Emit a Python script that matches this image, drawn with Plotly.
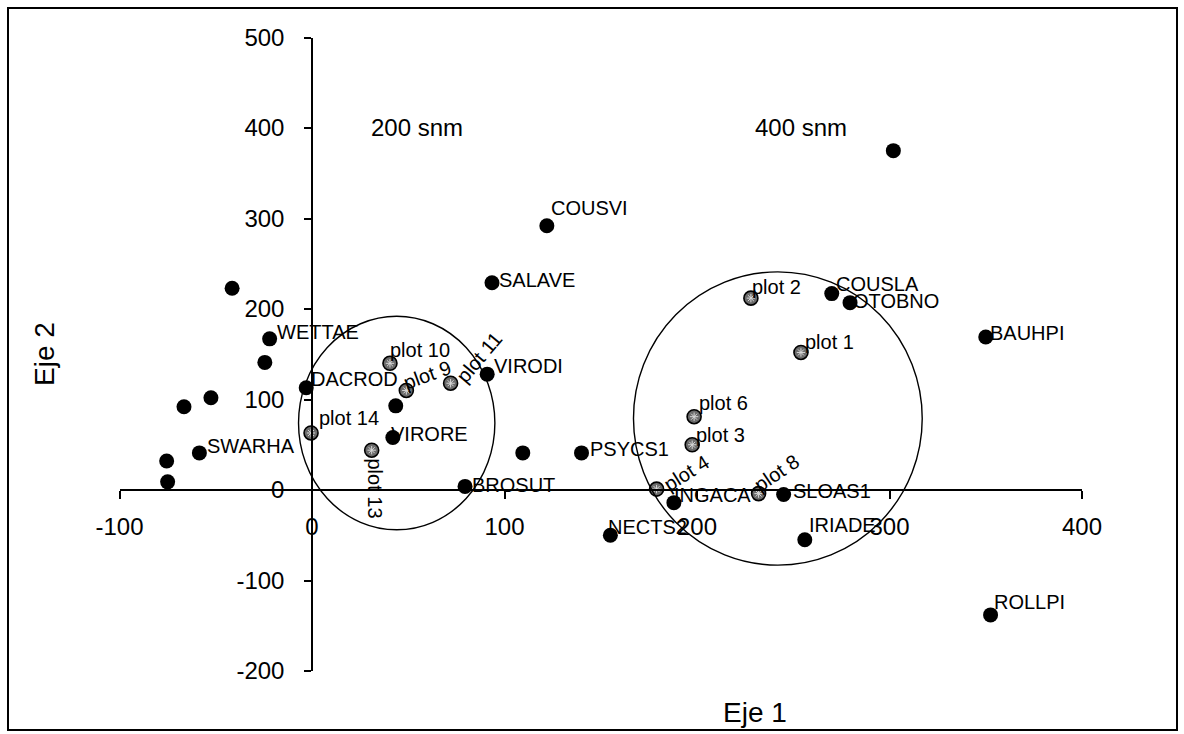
import plotly.graph_objects as go

# ---------------- data ----------------
species_names = ["COUSVI", "SALAVE", "COUSLA", "OTOBNO", "BAUHPI", "", "VIRODI", "WETTAE", "", "",
                 "DACROD", "", "", "SWARHA", "", "", "VIRORE", "", "", "PSYCS1",
                 "BROSUT", "NECTS2", "INGACA", "SLOAS1", "IRIADE", "ROLLPI"]
species_x = [122, 93.5, 270, 279.5, 350, 302, 91, -22, -41.5, -24.5,
             -3, -66.5, -52.5, -58.5, -75.5, -75, 42, 43.5, 109.5, 140,
             79.5, 155, 188, 245, 256, 352.5]
species_y = [292, 229, 217, 207, 169, 375, 128, 167, 223, 141,
             113, 92, 102, 41, 32, 9, 58, 93, 41, 41,
             4, -50, -14, -5, -55, -138]

plot_names = ["plot 1", "plot 2", "plot 3", "plot 4", "plot 6", "plot 8",
              "plot 9", "plot 10", "plot 11", "plot 13", "plot 14"]
plot_x = [254, 228, 197.5, 179, 198.5, 232, 49, 40.5, 72, 31, -0.5]
plot_y = [152, 212, 50, 1, 81, -4, 110, 140, 118, 44, 63]

x_ticks = [-100, 0, 100, 200, 300, 400]
y_ticks = [-200, -100, 0, 100, 200, 300, 400, 500]

group_labels = ["200 snm", "400 snm"]

# ---------------- label placement (pixels) ----------------
species_off = {"COUSVI": (2, -18), "SALAVE": (5, -3), "COUSLA": (2, -10), "OTOBNO": (1, -2),
               "BAUHPI": (2, -4), "VIRODI": (5, -8), "WETTAE": (5, -7), "DACROD": (3, -9),
               "SWARHA": (6, -7), "VIRORE": (-4, -4), "PSYCS1": (6, -4), "BROSUT": (5, -1),
               "NECTS2": (-4, -8), "INGACA": (-2, -8), "SLOAS1": (7, -4), "IRIADE": (2, -15),
               "ROLLPI": (1, -13)}
plot_off = {"plot 1": (2, -10, 0), "plot 2": (-1, -11, 0), "plot 3": (2, -10, 0),
            "plot 4": (30, -16, -32), "plot 6": (3, -14, 0), "plot 8": (18, -21, -34),
            "plot 9": (21, -15, -20), "plot 10": (-2, -13, 0), "plot 11": (29, -26, -50),
            "plot 13": (3, 38, 90), "plot 14": (6, -15, 0)}

W, H = 1184, 734
FONT = "Liberation Sans, Arial, sans-serif"

# pixel geometry of the original axes
x_px = (119.5, 1082.0)   # pixels for x=-100 .. 400
y_px = (671.0, 37.5)     # pixels for y=-200 .. 500
x0_px, y0_px = 312.0, 490.0

fig = go.Figure()

fig.add_trace(go.Scatter(
    x=plot_x, y=plot_y, mode="markers",
    marker=dict(size=14, color="#6a6a6a", line=dict(color="black", width=1.6)),
    cliponaxis=False, showlegend=False, hoverinfo="text", text=plot_names))
fig.add_trace(go.Scatter(
    x=plot_x, y=plot_y, mode="markers",
    marker=dict(size=7, symbol="asterisk-open", color="#d8d8d8", line=dict(color="#d8d8d8", width=1)),
    cliponaxis=False, showlegend=False, hoverinfo="skip"))
fig.add_trace(go.Scatter(
    x=species_x, y=species_y, mode="markers",
    marker=dict(size=15, color="black"),
    cliponaxis=False, showlegend=False, hoverinfo="text", text=species_names))

annotations = []
for n, x, y in zip(species_names, species_x, species_y):
    if not n:
        continue
    dx, dy = species_off[n]
    annotations.append(dict(x=x, y=y, xref="x", yref="y", text=n, showarrow=False,
                            xanchor="left", yanchor="middle", xshift=dx, yshift=-dy,
                            font=dict(family=FONT, size=20, color="black")))
for n, x, y in zip(plot_names, plot_x, plot_y):
    dx, dy, ang = plot_off[n]
    annotations.append(dict(x=x, y=y, xref="x", yref="y", text=n, showarrow=False,
                            xanchor="left" if ang == 0 else "center", yanchor="middle",
                            xshift=dx, yshift=-dy, textangle=ang,
                            font=dict(family=FONT, size=20, color="black")))

for lab, cx in zip(group_labels, [417, 801]):
    annotations.append(dict(x=cx / W, y=1 - 127 / H, xref="paper", yref="paper", text=lab,
                            showarrow=False, xanchor="center", yanchor="middle",
                            font=dict(family=FONT, size=24, color="black")))
annotations.append(dict(x=755 / W, y=1 - 712 / H, xref="paper", yref="paper", text="Eje 1",
                        showarrow=False, xanchor="center", yanchor="middle",
                        font=dict(family=FONT, size=28, color="black")))
annotations.append(dict(x=44 / W, y=1 - 354 / H, xref="paper", yref="paper", text="Eje 2",
                        showarrow=False, xanchor="center", yanchor="middle", textangle=-90,
                        font=dict(family=FONT, size=28, color="black")))

shapes = [
    dict(type="circle", xref="x", yref="y", x0=-7, x1=95, y0=-44, y1=192,
         line=dict(color="black", width=1.4)),
    dict(type="circle", xref="x", yref="y", x0=167, x1=317, y0=-83, y1=241,
         line=dict(color="black", width=1.4)),
    dict(type="rect", xref="paper", yref="paper", x0=8 / W, x1=1177 / W,
         y0=1 - 730 / H, y1=1 - 8 / H, line=dict(color="black", width=2)),
]

fig.update_layout(
    template="none",
    width=W, height=H,
    margin=dict(l=0, r=0, t=0, b=0, pad=0),
    paper_bgcolor="white", plot_bgcolor="white",
    font=dict(family=FONT, color="black"),
    annotations=annotations, shapes=shapes,
    xaxis=dict(range=[-100, 400], domain=[x_px[0] / W, x_px[1] / W], automargin=False,
               anchor="free", position=1 - y0_px / H,
               tickvals=x_ticks, ticktext=[str(v) for v in x_ticks],
               showgrid=False, zeroline=False, showline=True, linecolor="black", linewidth=1.5,
               ticks="outside", ticklen=8, tickwidth=1.5, tickcolor="black",
               tickfont=dict(family=FONT, size=24, color="black"), ticklabelstandoff=7),
    yaxis=dict(range=[-200, 500], domain=[1 - y_px[0] / H, 1 - y_px[1] / H], automargin=False,
               anchor="free", position=x0_px / W,
               tickvals=y_ticks, ticktext=[str(v) for v in y_ticks],
               showgrid=False, zeroline=False, showline=True, linecolor="black", linewidth=1.5,
               ticks="outside", ticklen=7, tickwidth=1.5, tickcolor="black",
               tickfont=dict(family=FONT, size=24, color="black"), ticklabelstandoff=15),
)

fig.write_html("out.html", config={"displayModeBar": False},
               post_script="document.body.style.margin='0';document.body.style.overflow='hidden';")
